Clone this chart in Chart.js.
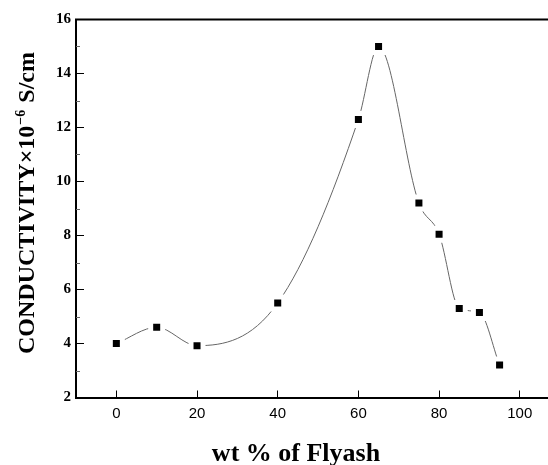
<!DOCTYPE html>
<html>
<head>
<meta charset="utf-8">
<script src="https://cdn.jsdelivr.net/npm/chart.js@4.4.1/dist/chart.umd.min.js"></script>
<style>
  html, body { margin: 0; padding: 0; background: #fff; }
  #wrap { width: 548px; height: 465px; position: relative; }
</style>
</head>
<body>
<div id="wrap"><canvas id="myChart"></canvas></div>
<script>
// values
var wtFlyash = [0, 10, 20, 40, 60, 65, 75, 80, 85, 90, 95];
var conductivity = [4.0, 4.6, 3.92, 5.5, 12.3, 15.0, 9.2, 8.05, 5.3, 5.15, 3.2];
var xTicks = [0, 20, 40, 60, 80, 100];
var yTicks = [2, 4, 6, 8, 10, 12, 14, 16];
var yMinorTicks = [3, 5, 7, 9, 11, 13, 15];

var xTitle = 'wt % of Flyash';
var yTitleMain = 'CONDUCTIVITY\u00d710';
var yTitleSup = '\u22126';
var yTitleUnit = ' S/cm';

// top frame line, minor ticks and axis titles
var frame = {
  id: 'frame',
  afterDraw: function (chart) {
    var ctx = chart.ctx;
    var a = chart.chartArea;
    var y = chart.scales.y;
    ctx.save();
    ctx.strokeStyle = '#000';
    ctx.lineWidth = 2;
    ctx.beginPath();
    ctx.moveTo(a.left - 1, a.top);
    ctx.lineTo(a.right, a.top);
    ctx.stroke();

    ctx.lineWidth = 1;
    ctx.strokeStyle = '#666';
    yMinorTicks.forEach(function (v) {
      var py = Math.round(y.getPixelForValue(v)) + 0.5;
      ctx.beginPath();
      ctx.moveTo(a.left, py);
      ctx.lineTo(a.left + 4, py);
      ctx.stroke();
    });

    ctx.fillStyle = '#000';
    ctx.font = 'bold 26px "Liberation Serif"';
    ctx.textAlign = 'center';
    ctx.textBaseline = 'alphabetic';
    ctx.fillText(xTitle, 296, 461);

    // rotated y title with superscript
    var big = 'bold 24px "Liberation Serif"';
    var small = 'bold 14px "Liberation Serif"';
    ctx.font = big;
    var w1 = ctx.measureText(yTitleMain).width;
    var w3 = ctx.measureText(yTitleUnit).width;
    ctx.font = small;
    var w2 = ctx.measureText(yTitleSup).width + 2;
    var total = w1 + w2 + w3;
    ctx.translate(34, 203);
    ctx.rotate(-Math.PI / 2);
    ctx.textAlign = 'left';
    ctx.textBaseline = 'alphabetic';
    var sx = -total / 2;
    ctx.font = big;
    ctx.fillText(yTitleMain, sx, 0);
    ctx.font = small;
    ctx.fillText(yTitleSup, sx + w1 + 1, -9);
    ctx.font = big;
    ctx.fillText(yTitleUnit, sx + w1 + w2, 0);
    ctx.restore();
  }
};

var ctx = document.getElementById('myChart').getContext('2d');
var myChart = new Chart(ctx, {
  type: 'line',
  data: {
    datasets: [{
      label: 'Conductivity',
      data: wtFlyash.map(function (v, i) { return { x: v, y: conductivity[i] }; }),
      borderColor: '#666',
      borderWidth: 1,
      cubicInterpolationMode: 'monotone',
      pointStyle: 'rect',
      pointRadius: 8.5,
      pointBackgroundColor: '#000',
      pointBorderColor: '#fff',
      pointBorderWidth: 5,
      fill: false
    }]
  },
  options: {
    responsive: true,
    maintainAspectRatio: false,
    animation: false,
    events: [],
    layout: { autoPadding: false, padding: { top: 19.5, right: 0, left: 0, bottom: 0 } },
    plugins: {
      legend: { display: false },
      tooltip: { enabled: false }
    },
    scales: {
      x: {
        type: 'linear',
        min: -10,
        max: 107,
        afterBuildTicks: function (scale) {
          scale.ticks = xTicks.map(function (v) { return { value: v }; });
        },
        afterFit: function (scale) {
          scale.height = 67.5;
          scale.paddingLeft = 0;
          scale.paddingRight = 0;
        },
        grid: { drawOnChartArea: false, tickLength: -7, tickColor: '#000', tickWidth: 1 },
        border: { color: '#000', width: 2 },
        ticks: {
          color: '#000',
          padding: 14,
          font: { family: '"Liberation Sans"', size: 15 }
        }
      },
      y: {
        min: 2,
        max: 16,
        afterBuildTicks: function (scale) {
          scale.ticks = yTicks.map(function (v) { return { value: v }; });
        },
        afterFit: function (scale) {
          scale.width = 76;
          scale.paddingTop = 0;
          scale.paddingBottom = 0;
        },
        grid: { drawOnChartArea: false, tickLength: -8, tickColor: '#000', tickWidth: 1 },
        border: { color: '#000', width: 2 },
        ticks: {
          color: '#000',
          padding: 13,
          font: { family: '"Liberation Serif"', size: 15, weight: 'bold' }
        }
      }
    }
  },
  plugins: [frame]
});
</script>
</body>
</html>
